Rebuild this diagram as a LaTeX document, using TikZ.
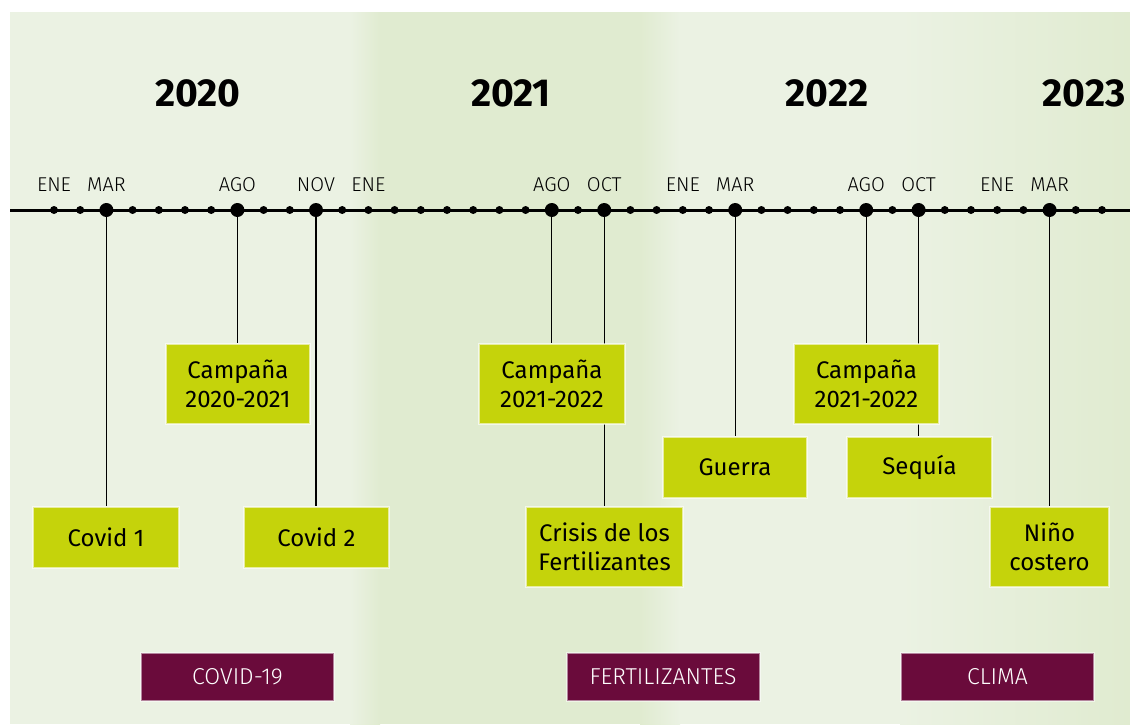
\documentclass[tikz,border=0pt]{standalone}
\usepackage{fontspec}
\setmainfont{Fira Sans}
\newfontfamily\ligera{Fira Sans Light}
\usetikzlibrary{positioning,backgrounds}

\definecolor{hoja}{HTML}{EBF2E3}
\definecolor{hojaosc}{HTML}{E0EBD0}
\definecolor{lima}{HTML}{C5D30B}
\definecolor{vino}{HTML}{6A0B3B}

\tikzset{
	punto/.style={circle, fill=black, inner sep=0, minimum size=8},
	hito/.style={circle, fill=black, inner sep=0, minimum size=14},
	mes/.style={inner sep=0, font=\ligera\fontsize{20}{20}\selectfont},
	anio/.style={font=\bfseries\fontsize{39}{39}\selectfont},
	evento/.style={fill=lima, draw=white, draw opacity=0.6, line width=2.5, inner sep=0, align=center, font=\fontsize{24}{29}\selectfont},
	tema/.style={fill=vino, text=white, draw=white, draw opacity=0.5, line width=2, inner sep=0, minimum width=193, minimum height=48, font=\ligera\fontsize{23}{23}\selectfont},
	enlace/.style={line width=1.3}
}

\begin{document}
\begin{tikzpicture}[x=1pt, y=-1pt]
			%%%%% START %%%%%
			\useasboundingbox (0,0) rectangle (1130,724);
			
			% line of months
			\coordinate (ini) at (10,210);
			\coordinate (fin) at (1130,210);
			\draw[line width=3] (ini) -- (fin);
			\foreach \i in {0,...,40}
				\node[punto] (d\i) at ({54+26.2*\i},210) {};
			
			\node[hito] (mar20) at (d2) {};
			\node[hito] (ago20) at (d7) {};
			\node[hito] (nov20) at (d10) {};
			\node[hito] (ago21) at (d19) {};
			\node[hito] (oct21) at (d21) {};
			\node[hito] (mar22) at (d26) {};
			\node[hito] (ago22) at (d31) {};
			\node[hito] (oct22) at (d33) {};
			\node[hito] (mar23) at (d38) {};
			
			\node[mes, above=14pt of d0] (tene20) {ENE};
			\node[mes, above=11pt of mar20] (tmar20) {MAR};
			\node[mes, above=11pt of ago20] (tago20) {AGO};
			\node[mes, above=11pt of nov20] (tnov20) {NOV};
			\node[mes, above=14pt of d12] (tene21) {ENE};
			\node[mes, above=11pt of ago21] (tago21) {AGO};
			\node[mes, above=11pt of oct21] (toct21) {OCT};
			\node[mes, above=14pt of d24] (tene22) {ENE};
			\node[mes, above=11pt of mar22] (tmar22) {MAR};
			\node[mes, above=11pt of ago22] (tago22) {AGO};
			\node[mes, above=11pt of oct22] (toct22) {OCT};
			\node[mes, above=14pt of d36] (tene23) {ENE};
			\node[mes, above=11pt of mar23] (tmar23) {MAR};
			
			\node[anio] (a2020) at (198,93) {2020};
			\node[anio] (a2021) at (511,93) {2021};
			\node[anio] (a2022) at (827,93) {2022};
			\node[anio] (a2023) at (1084,93) {2023};
			
			% events
			\node[evento, minimum width=146, minimum height=61] (covid1) at (106,537.5) {Covid 1};
			\node[evento, minimum width=144, minimum height=80] (camp20) at (238,384) {Campaña\\2020-2021};
			\node[evento, minimum width=145, minimum height=61] (covid2) at (316.5,537.5) {Covid 2};
			\node[evento, minimum width=146, minimum height=80] (camp21) at (552,384) {Campaña\\2021-2022};
			\node[evento, minimum width=157, minimum height=80] (crisis) at (604.5,547) {Crisis de los\\Fertilizantes};
			\node[evento, minimum width=144, minimum height=61] (guerra) at (735,467.5) {Guerra};
			\node[evento, minimum width=145, minimum height=80] (camp22) at (866.5,384) {Campaña\\2021-2022};
			\node[evento, minimum width=145, minimum height=61] (sequia) at (919.5,467.5) {Sequía};
			\node[evento, minimum width=119, minimum height=80] (nino) at (1049.5,547) {Niño\\costero};
			
			% groups
			\node[tema] (gcovid) at (237.5,676.5) {COVID-19};
			\node[tema] (gfert) at (663,676.5) {FERTILIZANTES};
			\node[tema] (gclima) at (997.5,676.5) {CLIMA};
			
			\begin{scope}[on background layer]
				\fill[white] (0,0) rectangle (1130,724);
				\fill[hoja] (10,12) rectangle (350,724);
				\shade[left color=hoja, right color=hojaosc] (350,12) rectangle (380,724);
				\fill[hojaosc] (380,12) rectangle (640,724);
				\shade[left color=hojaosc, right color=hoja] (640,12) rectangle (680,724);
				\fill[hoja] (680,12) rectangle (900,724);
				\shade[left color=hoja, right color=hojaosc] (900,12) rectangle (1130,724);
				
				\draw[enlace] (mar20) -- (mar20 |- covid1.north);
				\draw[enlace] (ago20) -- (ago20 |- camp20.north);
				\draw[enlace] (nov20) -- (nov20 |- covid2.north);
				\draw[enlace] (ago21) -- (ago21 |- camp21.north);
				\draw[enlace] (oct21) -- (oct21 |- crisis.north);
				\draw[enlace] (mar22) -- (mar22 |- guerra.north);
				\draw[enlace] (ago22) -- (ago22 |- camp22.north);
				\draw[enlace] (oct22) -- (oct22 |- sequia.north);
				\draw[enlace] (mar23) -- (mar23 |- nino.north);
			\end{scope}
			
			%%%%% END %%%%%
		\end{tikzpicture}
\end{document}
